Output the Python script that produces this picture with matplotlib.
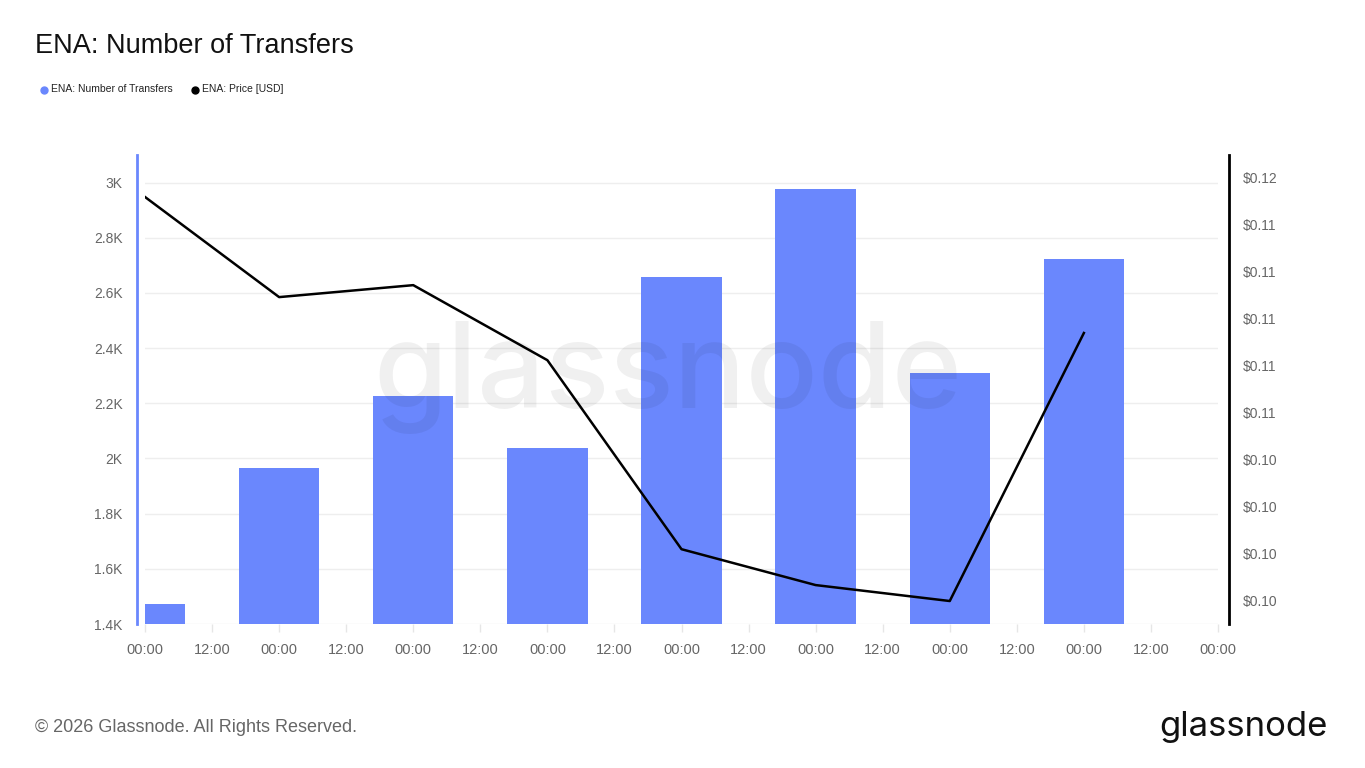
import matplotlib
matplotlib.use("Agg")
import matplotlib.pyplot as plt
from matplotlib.ticker import FixedLocator, FuncFormatter

plt.rcParams['font.family'] = ['Liberation Sans', 'DejaVu Sans']

# ---- data ----
day_positions = [0, 1, 2, 3, 4, 5, 6, 7]
transfers = [1473, 1966, 2227, 2039, 2659, 2975, 2311, 2724]
price_usd = [0.11519, 0.11092, 0.11143, 0.10823, 0.10017, 0.09864, 0.09796, 0.10939]
x_tick_labels = ["00:00", "12:00"] * 8 + ["00:00"]
left_ticks = [1400, 1600, 1800, 2000, 2200, 2400, 2600, 2800, 3000]
left_tick_labels = ["1.4K", "1.6K", "1.8K", "2K", "2.2K", "2.4K", "2.6K", "2.8K", "3K"]
right_ticks = [0.098, 0.100, 0.102, 0.104, 0.106, 0.108, 0.110, 0.112, 0.114, 0.116]

BAR = "#6a87fd"
GRAY = "#666666"

fig = plt.figure(figsize=(13.65, 7.68), dpi=100)
ax = fig.add_axes([145/1365, 1-624/768, (1218-145)/1365, (624-155)/768])
ax2 = ax.twinx()

ax.bar(day_positions, transfers, width=0.6, color=BAR, zorder=2)
ax.set_xlim(0, 8)
ax.set_ylim(1400, 3100)
ax.yaxis.set_major_locator(FixedLocator(left_ticks))
ax.set_yticklabels(left_tick_labels)
ax.set_xticks([i * 0.5 for i in range(17)])
ax.set_xticklabels(x_tick_labels)
ax.grid(axis='y', color="#eeeeee", linewidth=1, zorder=0)
ax.set_axisbelow(True)

for s in ["top", "right", "bottom"]:
    ax.spines[s].set_visible(False)
ax.spines["left"].set_color(BAR)
ax.spines["left"].set_linewidth(2)
ax.spines["left"].set_position(("outward", 6))
ax.tick_params(axis='y', length=0, pad=10, labelsize=10, labelcolor=GRAY)
ax.tick_params(axis='x', length=6, width=1, color="#e6e6e6", pad=8, labelsize=10.5, labelcolor=GRAY)

ax2.plot(day_positions, price_usd, color="black", linewidth=1.8, zorder=3)
ax2.set_ylim(0.09698, 0.11698)
ax2.yaxis.set_major_locator(FixedLocator(right_ticks))
ax2.yaxis.set_major_formatter(FuncFormatter(lambda v, p: f"${v:.2f}"))
for s in ["top", "left", "bottom"]:
    ax2.spines[s].set_visible(False)
ax2.spines["right"].set_color("black")
ax2.spines["right"].set_linewidth(2)
ax2.spines["right"].set_position(("outward", 8))
ax2.tick_params(axis='y', length=0, pad=10, labelsize=10, labelcolor=GRAY)

# watermark (above bars, below price line)
ax2.text(668/1365, 1-378/768, "glassnode", fontsize=86, color="#000000", alpha=0.06,
         ha="center", va="center", family=["Inter", "DejaVu Sans"], fontweight="medium",
         transform=fig.transFigure, zorder=1)

# title & legend
fig.text(35/1365, 1-46/768, "ENA: Number of Transfers", fontsize=19.5, color="#111111",
         ha="left", va="center")
fig.lines.append(plt.Line2D([44/1365], [1-90/768], marker="o", markersize=5, color=BAR,
                            transform=fig.transFigure, linestyle="none"))
fig.text(51/1365, 1-89/768, "ENA: Number of Transfers", fontsize=7.5, color="#222222",
         ha="left", va="center")
fig.lines.append(plt.Line2D([195/1365], [1-90/768], marker="o", markersize=5, color="black",
                            transform=fig.transFigure, linestyle="none"))
fig.text(202/1365, 1-89/768, "ENA: Price [USD]", fontsize=7.5, color="#222222",
         ha="left", va="center")

# footer
fig.text(35/1365, 1-727/768, "© 2026 Glassnode. All Rights Reserved.", fontsize=13,
         color=GRAY, ha="left", va="center")
fig.text(1328/1365, 1-727/768, "glassnode", fontsize=25, color="#111111",
         ha="right", va="center", family=["Inter", "DejaVu Sans"])

fig.savefig("out.png", dpi=100)
